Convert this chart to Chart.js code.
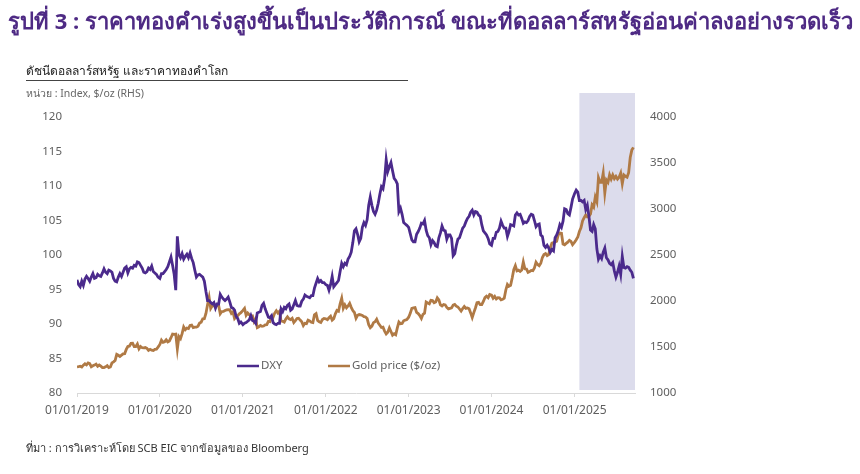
<!DOCTYPE html>
<html>
<head>
<meta charset="utf-8">
<script src="https://cdn.jsdelivr.net/npm/chart.js@4.4.1/dist/chart.umd.min.js"></script>
<style>
  body { margin: 0; background: #fff; font-family: "Noto Sans", "DejaVu Sans", sans-serif; }
  #wrap { position: relative; width: 860px; height: 474px; overflow: hidden; }
  #chart { position: absolute; left: 0; top: 0; }
  .txt { position: absolute; white-space: nowrap; }
  #title { left: 8px; top: 4px; font-size: 22px; font-weight: bold; color: #4e2a84; }
  #sub { left: 26px; top: 61px; font-size: 12px; color: #222; }
  #rule { position: absolute; left: 26px; top: 80px; width: 382px; height: 0; border-top: 1.5px solid #444; }
  #unit { left: 26px; top: 85px; font-size: 10.5px; color: #666; }
  #source { left: 26px; top: 439px; font-size: 11px; color: #333; }
</style>
</head>
<body>
<div id="wrap">
  <canvas id="chart" width="860" height="474"></canvas>
  <div class="txt" id="title">รูปที่ 3 : ราคาทองคำเร่งสูงขึ้นเป็นประวัติการณ์ ขณะที่ดอลลาร์สหรัฐอ่อนค่าลงอย่างรวดเร็ว</div>
  <div class="txt" id="sub">ดัชนีดอลลาร์สหรัฐ และราคาทองคำโลก</div>
  <div id="rule"></div>
  <div class="txt" id="unit">หน่วย : Index, $/oz (RHS)</div>
  <div class="txt" id="source">ที่มา : การวิเคราะห์โดย SCB EIC จากข้อมูลของ Bloomberg</div>
</div>
<script>
// x is counted in days from 01/01/2019, one value per week from each year start
const tickLabels = ["01/01/2019", "01/01/2020", "01/01/2021", "01/01/2022", "01/01/2023", "01/01/2024", "01/01/2025"];
const yearStartDays = [0, 365, 731, 1096, 1461, 1826, 2192];
const highlightStartDay = 2213; // ~22/01/2025
const xMaxDay = 2458;

const dxy2019 = [96.4, 95.7, 95.4, 96.2, 95.6, 96.5, 96.9, 96.6, 96.2, 96.8, 97.3, 96.6, 96.7,
  97.2, 97.0, 96.9, 97.4, 98.0, 97.5, 97.3, 97.8, 97.7, 97.5, 96.6, 96.2, 96.1,
  96.8, 97.3, 96.9, 97.5, 98.1, 98.3, 97.4, 98.0, 98.2, 98.1, 98.5, 98.4, 99.0,
  98.9, 98.5, 98.1, 97.5, 97.4, 97.6, 98.1, 97.9, 98.4, 97.6, 97.4, 97.2, 96.8];
const dxy2020 = [96.6, 97.3, 97.3, 97.6, 97.9, 98.3, 99.0, 99.7, 98.5, 97.2, 94.9, 102.7, 100.1,
  99.6, 100.2, 99.4, 99.8, 100.1, 99.6, 100.3, 99.5, 98.9, 97.8, 96.8, 97.1, 97.2,
  97.0, 96.8, 96.2, 94.7, 93.4, 93.4, 93.1, 92.9, 93.1, 92.3, 92.9, 92.9, 94.3,
  93.9, 93.6, 93.4, 93.6, 93.9, 93.2, 92.4, 92.3, 92.0, 91.1, 90.8, 90.1, 90.3];
const dxy2021 = [89.9, 90.1, 90.2, 90.4, 90.6, 91.2, 90.5, 90.4, 90.1, 91.6, 91.7, 91.8, 92.7,
  93.0, 92.2, 91.6, 91.0, 90.9, 91.2, 90.2, 90.0, 89.9, 90.1, 90.1, 92.2, 91.8,
  92.4, 92.2, 92.7, 92.9, 92.0, 92.2, 92.8, 93.4, 92.7, 92.6, 92.6, 93.3, 93.6,
  94.2, 94.0, 93.9, 93.8, 94.1, 94.1, 95.2, 95.9, 96.6, 96.1, 96.3, 96.0, 96.0];
const dxy2022 = [95.7, 95.6, 94.9, 95.7, 96.9, 95.4, 95.7, 96.0, 96.3, 97.6, 98.8, 98.3, 98.8,
  98.6, 99.4, 99.8, 100.4, 101.8, 103.5, 103.8, 103.0, 101.9, 102.4, 104.0, 104.7, 104.3,
  105.1, 107.2, 108.4, 107.2, 106.3, 105.9, 106.5, 107.5, 108.8, 109.9, 109.6, 111.0, 113.8,
  112.1, 112.8, 113.4, 112.2, 111.1, 110.8, 110.3, 106.3, 106.8, 105.9, 104.7, 104.5, 104.3];
const dxy2023 = [104.0, 103.1, 102.2, 101.9, 101.9, 103.0, 103.4, 103.9, 104.6, 104.5, 105.0, 103.6, 102.8,
  102.5, 101.5, 102.1, 101.8, 101.3, 101.2, 102.5, 103.2, 104.2, 103.6, 103.5, 102.3, 102.9,
  102.9, 102.4, 99.9, 100.2, 101.4, 102.3, 102.5, 103.2, 103.9, 104.2, 104.8, 105.3, 105.6,
  106.2, 106.5, 105.8, 106.3, 106.2, 105.8, 105.6, 104.4, 103.5, 103.2, 102.9, 102.4, 101.6];
const dxy2024 = [101.4, 102.4, 102.4, 103.3, 103.4, 103.9, 104.9, 104.3, 103.9, 103.9, 102.7, 103.4, 104.4,
  104.3, 104.2, 105.8, 106.1, 105.8, 105.9, 105.3, 104.6, 104.8, 104.7, 105.0, 105.6, 105.9,
  105.8, 105.0, 104.1, 104.4, 104.5, 102.9, 102.7, 101.4, 101.1, 101.4, 101.0, 100.4, 100.8,
  100.6, 102.5, 102.9, 103.5, 104.4, 104.0, 104.9, 106.7, 106.6, 106.0, 105.8, 106.9, 108.1];
const dxy2025 = [108.9, 109.4, 109.1, 107.9, 107.9, 107.7, 107.9, 106.6, 107.2,
  105.6, 103.6, 103.4, 104.4, 103.8, 100.9, 99.4, 99.9, 99.5,
  100.4, 101.0, 99.6, 99.3, 98.8, 98.6, 98.9, 97.7,
  96.8, 97.5, 98.4, 97.2, 99.8, 98.2, 98.1, 98.3, 98.2, 97.8, 97.5, 96.6];

const gold2019 = [1284, 1287, 1291, 1282, 1303, 1318, 1306, 1327, 1320, 1285, 1296, 1303, 1314,
  1291, 1304, 1292, 1277, 1276, 1285, 1298, 1276, 1283, 1327, 1339, 1354, 1420,
  1410, 1397, 1412, 1426, 1428, 1474, 1505, 1510, 1539, 1541, 1505, 1505, 1532,
  1480, 1506, 1492, 1490, 1494, 1485, 1464, 1475, 1465, 1461, 1475, 1477, 1499];
const gold2020 = [1528, 1574, 1550, 1557, 1578, 1556, 1566, 1601, 1641, 1638, 1640, 1478, 1614,
  1592, 1645, 1717, 1688, 1706, 1700, 1735, 1739, 1710, 1715, 1716, 1726, 1760,
  1770, 1807, 1808, 1864, 1960, 2039, 1920, 1948, 1948, 1941, 1952, 1950, 1862,
  1886, 1887, 1897, 1904, 1905, 1903, 1866, 1882, 1809, 1829, 1840, 1860, 1873];
const gold2021 = [1898, 1920, 1845, 1870, 1851, 1835, 1838, 1776, 1807, 1711, 1720, 1735, 1725,
  1728, 1741, 1743, 1779, 1775, 1832, 1825, 1869, 1895, 1870, 1888, 1783, 1779,
  1770, 1805, 1828, 1806, 1797, 1812, 1766, 1787, 1810, 1813, 1793, 1775, 1733,
  1758, 1754, 1791, 1783, 1769, 1765, 1851, 1863, 1789, 1774, 1766, 1799, 1810];
const gold2022 = [1806, 1797, 1818, 1835, 1792, 1808, 1860, 1898, 1889, 1970, 2030, 1921, 1958,
  1926, 1947, 1975, 1931, 1896, 1875, 1812, 1845, 1853, 1849, 1843, 1830, 1826,
  1810, 1743, 1710, 1727, 1765, 1775, 1802, 1760, 1737, 1712, 1716, 1673, 1643,
  1661, 1707, 1669, 1628, 1644, 1633, 1707, 1771, 1753, 1756, 1785, 1793, 1798];
const gold2023 = [1824, 1866, 1920, 1926, 1928, 1876, 1863, 1842, 1810, 1855, 1867, 1988, 1978,
  1969, 2007, 2004, 1982, 1990, 2034, 2011, 1958, 1946, 1962, 1958, 1930, 1915,
  1920, 1925, 1955, 1962, 1944, 1935, 1913, 1890, 1918, 1940, 1920, 1925, 1915,
  1871, 1820, 1874, 1924, 1981, 1985, 1960, 1960, 1995, 2036, 2052, 2036, 2070];
const gold2024 = [2063, 2030, 2050, 2022, 2036, 2034, 2012, 2018, 2031, 2120, 2181, 2160, 2170,
  2250, 2340, 2383, 2327, 2335, 2322, 2336, 2425, 2350, 2347, 2311, 2320, 2333,
  2330, 2360, 2422, 2397, 2384, 2410, 2473, 2505, 2516, 2493, 2504, 2582, 2629,
  2634, 2643, 2650, 2719, 2740, 2737, 2619, 2611, 2626, 2640, 2660, 2648, 2612];
const gold2025 = [2640, 2665, 2695, 2755, 2795, 2870, 2905, 2935, 2915,
  2920, 2945, 3045, 3020, 3130, 3080, 3340, 3290, 3290,
  3390, 3175, 3315, 3290, 3370, 3325, 3370, 3330,
  3355, 3325, 3345, 3390, 3275, 3370, 3355, 3345, 3395, 3560, 3640, 3670];

const dxyYears = [dxy2019, dxy2020, dxy2021, dxy2022, dxy2023, dxy2024, dxy2025];
const goldYears = [gold2019, gold2020, gold2021, gold2022, gold2023, gold2024, gold2025];

const toPoints = (years) =>
  years.flatMap((vals, yi) => vals.map((v, i) => ({ x: yearStartDays[yi] + 7 * i, y: v })));

const purple = "#4b2a8c";
const brown = "#b07a45";
const axisGrey = "#5f5f5f";

const bandPlugin = {
  id: "band",
  beforeDatasetsDraw(chart) {
    const { ctx, chartArea, scales } = chart;
    const x0 = scales.x.getPixelForValue(highlightStartDay);
    const x1 = scales.x.getPixelForValue(xMaxDay);
    ctx.save();
    ctx.fillStyle = "#dcdcec";
    ctx.fillRect(x0, chartArea.top - 24, x1 - x0, chartArea.bottom - chartArea.top + 21);
    ctx.restore();
  },
};

const legendPlugin = {
  id: "innerLegend",
  afterDraw(chart) {
    const { ctx } = chart;
    const starts = [237, 328];
    const y = 366;
    ctx.save();
    ctx.font = "11.5px 'Noto Sans', sans-serif";
    ctx.textBaseline = "middle";
    chart.data.datasets.forEach((ds, i) => {
      ctx.strokeStyle = ds.borderColor;
      ctx.lineWidth = 2.5;
      ctx.beginPath();
      ctx.moveTo(starts[i], y);
      ctx.lineTo(starts[i] + 22, y);
      ctx.stroke();
      ctx.fillStyle = axisGrey;
      ctx.fillText(ds.label, starts[i] + 24, y);
    });
    ctx.restore();
  },
};

new Chart(document.getElementById("chart"), {
  type: "line",
  data: {
    datasets: [
      { label: "DXY", data: toPoints(dxyYears), yAxisID: "y", borderColor: purple, borderWidth: 2.8 },
      { label: "Gold price ($/oz)", data: toPoints(goldYears), yAxisID: "y1", borderColor: brown, borderWidth: 2.8 },
    ],
  },
  options: {
    responsive: false,
    animation: false,
    layout: { padding: { top: 117, left: 0, right: 0, bottom: 0 } },
    elements: { point: { radius: 0 }, line: { tension: 0 } },
    plugins: { legend: { display: false }, tooltip: { enabled: false } },
    scales: {
      x: {
        type: "linear",
        min: 0,
        max: xMaxDay,
        afterBuildTicks: (s) => { s.ticks = yearStartDays.map((v) => ({ value: v })); },
        afterFit: (s) => { s.height = 81; },
        ticks: {
          autoSkip: false,
          maxRotation: 0,
          padding: 6,
          color: axisGrey,
          font: { size: 12, family: "'Noto Sans', sans-serif" },
          callback: (v) => tickLabels[yearStartDays.indexOf(v)],
        },
        grid: { drawOnChartArea: false, tickLength: 4, color: "#d9d9d9" },
        border: { color: "#d9d9d9" },
      },
      y: {
        position: "left",
        min: 80,
        max: 120,
        afterFit: (s) => { s.width = 77; },
        ticks: { stepSize: 5, padding: 15, color: axisGrey, font: { size: 11.5, family: "'Noto Sans', sans-serif" } },
        grid: { display: false, drawTicks: false },
        border: { display: false },
      },
      y1: {
        position: "right",
        min: 1000,
        max: 4000,
        afterFit: (s) => { s.width = 225; },
        ticks: {
          stepSize: 500,
          padding: 15,
          color: axisGrey,
          font: { size: 11.5, family: "'Noto Sans', sans-serif" },
          callback: (v) => String(v),
        },
        grid: { display: false, drawTicks: false },
        border: { display: false },
      },
    },
  },
  plugins: [bandPlugin, legendPlugin],
});
</script>
</body>
</html>
